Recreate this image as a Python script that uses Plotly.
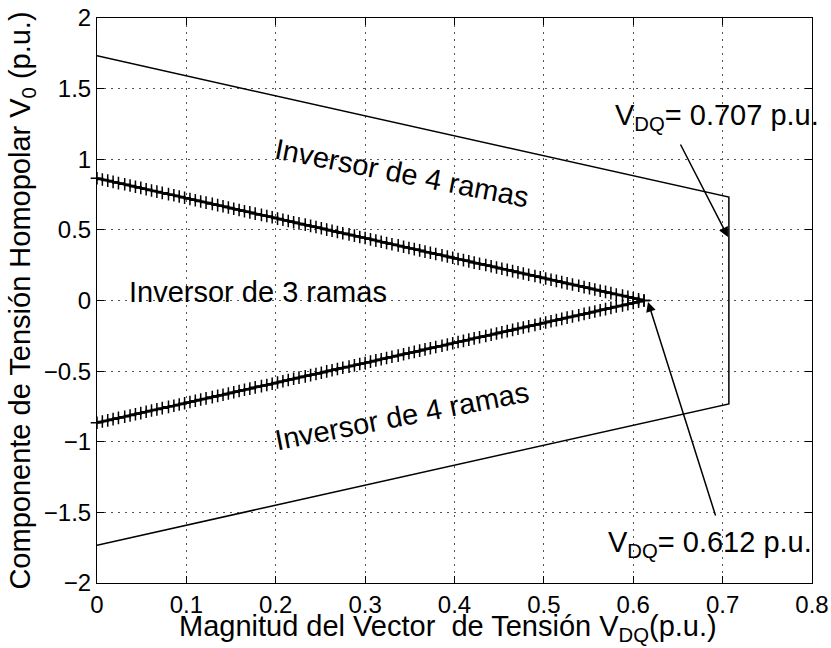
import plotly.graph_objects as go

# 4-leg inverter boundary
x4 = [0.0, 0.707, 0.707, 0.0]
y4 = [1.732, 0.732, -0.732, -1.732]

# 3-leg inverter boundary (sampled points with '+' markers)
x3 = [0.000, 0.006, 0.012, 0.018, 0.024, 0.031, 0.037, 0.043, 0.049, 0.055,
      0.061, 0.067, 0.073, 0.080, 0.086, 0.092, 0.098, 0.104, 0.110, 0.116,
      0.122, 0.129, 0.135, 0.141, 0.147, 0.153, 0.159, 0.165, 0.171, 0.177,
      0.184, 0.190, 0.196, 0.202, 0.208, 0.214, 0.220, 0.226, 0.233, 0.239,
      0.245, 0.251, 0.257, 0.263, 0.269, 0.275, 0.282, 0.288, 0.294, 0.300,
      0.306, 0.312, 0.318, 0.324, 0.330, 0.337, 0.343, 0.349, 0.355, 0.361,
      0.367, 0.373, 0.379, 0.386, 0.392, 0.398, 0.404, 0.410, 0.416, 0.422,
      0.428, 0.435, 0.441, 0.447, 0.453, 0.459, 0.465, 0.471, 0.477, 0.483,
      0.490, 0.496, 0.502, 0.508, 0.514, 0.520, 0.526, 0.532, 0.539, 0.545,
      0.551, 0.557, 0.563, 0.569, 0.575, 0.581, 0.588, 0.594, 0.600, 0.606,
      0.612]
y3_upper = [0.866, 0.857, 0.849, 0.840, 0.831, 0.823, 0.814, 0.805, 0.797, 0.788,
            0.779, 0.771, 0.762, 0.753, 0.745, 0.736, 0.727, 0.719, 0.710, 0.701,
            0.693, 0.684, 0.675, 0.667, 0.658, 0.650, 0.641, 0.632, 0.624, 0.615,
            0.606, 0.598, 0.589, 0.580, 0.572, 0.563, 0.554, 0.546, 0.537, 0.528,
            0.520, 0.511, 0.502, 0.494, 0.485, 0.476, 0.468, 0.459, 0.450, 0.442,
            0.433, 0.424, 0.416, 0.407, 0.398, 0.390, 0.381, 0.372, 0.364, 0.355,
            0.346, 0.338, 0.329, 0.320, 0.312, 0.303, 0.294, 0.286, 0.277, 0.268,
            0.260, 0.251, 0.242, 0.234, 0.225, 0.217, 0.208, 0.199, 0.191, 0.182,
            0.173, 0.165, 0.156, 0.147, 0.139, 0.130, 0.121, 0.113, 0.104, 0.095,
            0.087, 0.078, 0.069, 0.061, 0.052, 0.043, 0.035, 0.026, 0.017, 0.009,
            0.000]
y3_lower = [-0.866, -0.857, -0.849, -0.840, -0.831, -0.823, -0.814, -0.805, -0.797, -0.788,
            -0.779, -0.771, -0.762, -0.753, -0.745, -0.736, -0.727, -0.719, -0.710, -0.701,
            -0.693, -0.684, -0.675, -0.667, -0.658, -0.650, -0.641, -0.632, -0.624, -0.615,
            -0.606, -0.598, -0.589, -0.580, -0.572, -0.563, -0.554, -0.546, -0.537, -0.528,
            -0.520, -0.511, -0.502, -0.494, -0.485, -0.476, -0.468, -0.459, -0.450, -0.442,
            -0.433, -0.424, -0.416, -0.407, -0.398, -0.390, -0.381, -0.372, -0.364, -0.355,
            -0.346, -0.338, -0.329, -0.320, -0.312, -0.303, -0.294, -0.286, -0.277, -0.268,
            -0.260, -0.251, -0.242, -0.234, -0.225, -0.217, -0.208, -0.199, -0.191, -0.182,
            -0.173, -0.165, -0.156, -0.147, -0.139, -0.130, -0.121, -0.113, -0.104, -0.095,
            -0.087, -0.078, -0.069, -0.061, -0.052, -0.043, -0.035, -0.026, -0.017, -0.009,
            0.000]

x_ticks = [0, 0.1, 0.2, 0.3, 0.4, 0.5, 0.6, 0.7, 0.8]
x_ticklabels = ["0", "0.1", "0.2", "0.3", "0.4", "0.5", "0.6", "0.7", "0.8"]
y_ticks = [-2, -1.5, -1, -0.5, 0, 0.5, 1, 1.5, 2]
y_ticklabels = ["\u22122", "\u22121.5", "\u22121", "\u22120.5", "0", "0.5", "1", "1.5", "2"]

FONT = "Liberation Sans, Arial, Helvetica, sans-serif"

fig = go.Figure()
fig.add_trace(go.Scatter(x=x4, y=y4, mode="lines",
                         line=dict(color="black", width=1.5), showlegend=False))
for yy in (y3_upper, y3_lower):
    fig.add_trace(go.Scatter(x=x3, y=yy, mode="lines+markers",
                             line=dict(color="black", width=2.5),
                             marker=dict(symbol="cross-thin", size=9,
                                         line=dict(color="black", width=1.5)),
                             cliponaxis=False, showlegend=False))

axis_common = dict(
    showline=True, linecolor="black", linewidth=1, mirror="ticks",
    ticks="inside", ticklen=7, tickwidth=1, tickcolor="black",
    showgrid=True, gridcolor="#555555", gridwidth=1.2, griddash="2px,5px",
    zeroline=False, tickfont=dict(family=FONT, size=24, color="black"),
)

fig.update_xaxes(range=[0, 0.8], tickvals=x_ticks, ticktext=x_ticklabels,
                 **axis_common)
fig.update_yaxes(range=[-2, 2], tickvals=y_ticks, ticktext=y_ticklabels,
                 title=dict(text="Componente de Tensión Homopolar V<sub>0</sub> (p.u.)",
                            font=dict(family=FONT, size=29, color="black"), standoff=4),
                 **axis_common)

lab_font = dict(family=FONT, size=29, color="black")
annotations = [
    dict(x=0.491, y=-0.0796, xref="paper", yref="paper", xanchor="center", yanchor="middle",
         text="Magnitud del Vector\u00a0 de Tensión V<sub>DQ</sub>(p.u.)",
         showarrow=False, font=dict(family=FONT, size=29, color="black")),
    dict(x=0.341, y=0.903, text="Inversor de 4 ramas", textangle=11,
         showarrow=False, font=lab_font),
    dict(x=0.341, y=-0.818, text="Inversor de 4 ramas", textangle=-11,
         showarrow=False, font=lab_font),
    dict(x=0.180, y=0.06, text="Inversor de 3 ramas", showarrow=False, font=lab_font),
    dict(x=0.5773, y=1.30, text="V<sub>DQ</sub>= 0.707 p.u.", xanchor="left",
         showarrow=False, font=lab_font),
    dict(x=0.5695, y=-1.725, text="V<sub>DQ</sub>= 0.612 p.u.", xanchor="left",
         showarrow=False, font=lab_font),
    dict(x=0.706, y=0.45, ax=0.652, ay=1.115, axref="x", ayref="y", text="",
         showarrow=True, arrowhead=2, arrowsize=1.3, arrowwidth=1.5, arrowcolor="black"),
    dict(x=0.6165, y=-0.01, ax=0.6926, ay=-1.533, axref="x", ayref="y", text="",
         showarrow=True, arrowhead=2, arrowsize=1.3, arrowwidth=1.5, arrowcolor="black"),
]

fig.update_layout(
    width=831, height=648,
    margin=dict(l=97, r=19, t=18, b=65, autoexpand=False),
    plot_bgcolor="white", paper_bgcolor="white",
    annotations=annotations,
    font=dict(family=FONT, color="black"),
)

fig.write_html("out.html")
